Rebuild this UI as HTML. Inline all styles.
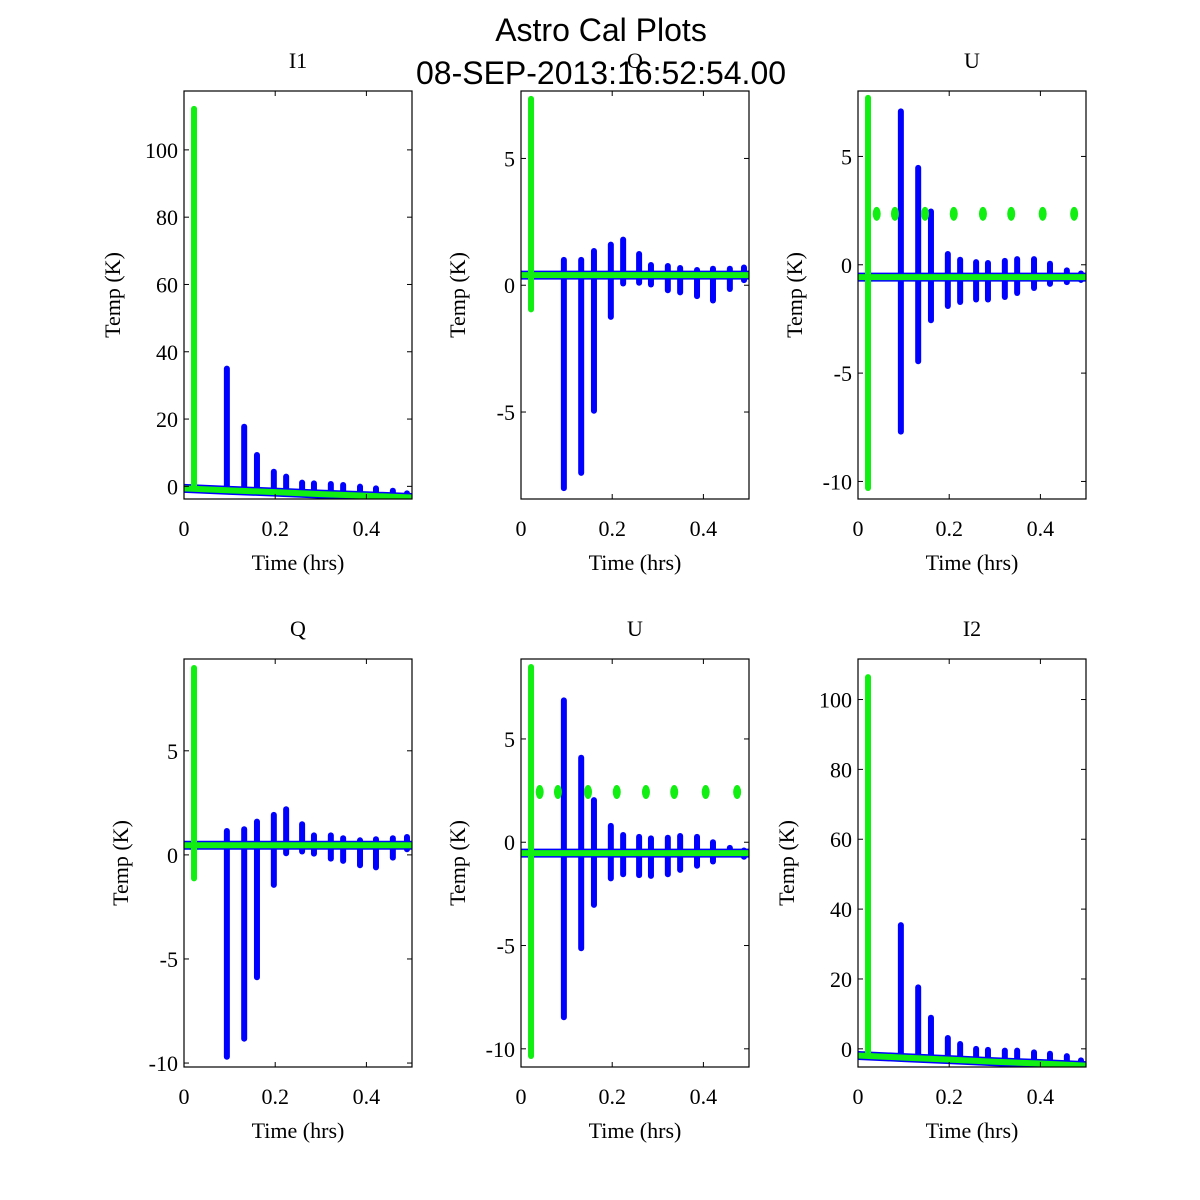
<!DOCTYPE html>
<html><head><meta charset="utf-8"><style>
html,body{margin:0;padding:0;background:#fff;}
svg{display:block;}
</style></head><body>
<svg id="fig" width="1200" height="1200" xmlns="http://www.w3.org/2000/svg">
<rect width="1200" height="1200" fill="#fff"/>
<text x="601" y="41" text-anchor="middle" font-family="Liberation Sans, sans-serif" font-size="32">Astro Cal Plots</text>
<g id="panels"></g>
<text x="601" y="84" text-anchor="middle" font-family="Liberation Sans, sans-serif" font-size="32">08-SEP-2013:16:52:54.00</text>
</svg>
<script>
const spikeTimes = [0.094,0.132,0.160,0.197,0.224,0.259,0.285,0.322,0.349,0.386,0.421,0.458,0.489];
const greenSpikeTime = 0.022;
const baseTimes = [0,0.1,0.2,0.3,0.4,0.5];
const clusterTimes = [0.041,0.081,0.147,0.21,0.274,0.336,0.405,0.474];
const xTicks = [0,0.2,0.4];
const xTickLabels = ["0","0.2","0.4"];

const i1Tops = [35,17.7,9.3,4.35,2.9,1.1,0.9,0.7,0.4,-0.1,-0.6,-1.3,-2.1];
const i1Bottoms = [-1.2,-1.4,-1.5,-1.7,-1.9,-2.0,-2.2,-2.3,-2.5,-2.7,-2.9,-3.0,-3.2];
const i1Green = [-0.5,112.2];
const i1Base = [-0.6,-1.2,-1.7,-2.3,-2.8,-3.3];

const q1Tops = [1.0,1.0,1.35,1.6,1.8,1.23,0.8,0.76,0.68,0.6,0.65,0.65,0.7];
const q1Bottoms = [-8.0,-7.4,-4.95,-1.25,0.07,0.1,0.03,-0.2,-0.28,-0.43,-0.6,-0.15,0.2];
const q1Green = [-0.95,7.35];
const q1Base = [0.4,0.4,0.4,0.4,0.4,0.4];

const u1Tops = [7.08,4.47,2.46,0.5,0.23,0.12,0.08,0.18,0.26,0.26,0.05,-0.26,-0.4];
const u1Bottoms = [-7.7,-4.45,-2.56,-1.9,-1.72,-1.6,-1.6,-1.49,-1.3,-1.07,-0.88,-0.8,-0.7];
const u1Green = [-10.3,7.7];
const u1Base = [-0.57,-0.57,-0.57,-0.57,-0.57,-0.57];
const u1Clusters = [2.35,2.35,2.35,2.35,2.35,2.35,2.35,2.35];

const q2Tops = [1.15,1.23,1.6,1.92,2.19,1.47,0.94,0.94,0.8,0.7,0.75,0.8,0.86];
const q2Bottoms = [-9.7,-8.83,-5.88,-1.44,0.08,0.16,0.06,-0.18,-0.29,-0.5,-0.6,-0.13,0.27];
const q2Green = [-1.13,8.98];
const q2Base = [0.46,0.46,0.46,0.46,0.46,0.46];

const u2Tops = [6.87,4.09,2.04,0.79,0.35,0.26,0.19,0.22,0.3,0.26,0,-0.27,-0.4];
const u2Bottoms = [-8.47,-5.13,-3.03,-1.75,-1.55,-1.59,-1.63,-1.55,-1.34,-1.14,-0.93,-0.58,-0.7];
const u2Green = [-10.35,8.48];
const u2Base = [-0.53,-0.53,-0.53,-0.53,-0.53,-0.53];
const u2Clusters = [2.43,2.43,2.43,2.43,2.43,2.43,2.43,2.43];

const i2Tops = [35.4,17.6,8.9,3.1,1.4,0,-0.3,-0.5,-0.5,-1,-1.4,-2.1,-3.3];
const i2Bottoms = [-2.6,-2.8,-2.9,-3.1,-3.3,-3.4,-3.6,-3.8,-3.9,-4.1,-4.3,-4.5,-4.7];
const i2Green = [-1,106.4];
const i2Base = [-1.9,-2.5,-3.1,-3.7,-4.2,-4.8];

const iTicks = [0,20,40,60,80,100];
const quTicks = [-10,-5,0,5];

const panels = [
 {name:'i1',title:'I1',x:184,y:91,ymin:-3.76,ymax:117.5,ticks:iTicks,tops:i1Tops,bots:i1Bottoms,green:i1Green,base:i1Base,clusters:null},
 {name:'q1',title:'Q',x:521,y:91,ymin:-8.43,ymax:7.66,ticks:quTicks,tops:q1Tops,bots:q1Bottoms,green:q1Green,base:q1Base,clusters:null},
 {name:'u1',title:'U',x:858,y:91,ymin:-10.81,ymax:8.02,ticks:quTicks,tops:u1Tops,bots:u1Bottoms,green:u1Green,base:u1Base,clusters:u1Clusters},
 {name:'q2',title:'Q',x:184,y:659,ymin:-10.19,ymax:9.41,ticks:quTicks,tops:q2Tops,bots:q2Bottoms,green:q2Green,base:q2Base,clusters:null},
 {name:'u2',title:'U',x:521,y:659,ymin:-10.88,ymax:8.87,ticks:quTicks,tops:u2Tops,bots:u2Bottoms,green:u2Green,base:u2Base,clusters:u2Clusters},
 {name:'i2',title:'I2',x:858,y:659,ymin:-5.2,ymax:111.6,ticks:iTicks,tops:i2Tops,bots:i2Bottoms,green:i2Green,base:i2Base,clusters:null}
];
const NS='http://www.w3.org/2000/svg';
const W=228,H=408;
const GREEN='#11ee11';
const root=document.getElementById('panels');
function mk(tag,attrs,parent){const e=document.createElementNS(NS,tag);for(const k in attrs)e.setAttribute(k,attrs[k]);parent.appendChild(e);return e;}
panels.forEach(p=>{
  const g=mk('g',{},root);
  
  
  const sx=t=>p.x+t/0.5*W;
  const sy=v=>p.y+(p.ymax-v)/(p.ymax-p.ymin)*H;
  const clip='clip-'+p.name;
  const cp=mk('clipPath',{id:clip},g);mk('rect',{x:p.x,y:p.y,width:W,height:H},cp);
  const plot=mk('g',{'clip-path':'url(#'+clip+')'},g);
  const pts=baseTimes.map((t,i)=>sx(t)+','+sy(p.base[i])).join(' ');
  const bl=mk('polyline',{points:pts,fill:'none',stroke:'#0000ff','stroke-width':9},plot);
  
  
  spikeTimes.forEach((t,i)=>{
    const l=mk('line',{x1:sx(t),x2:sx(t),y1:sy(p.tops[i]),y2:sy(p.bots[i]),stroke:'#0000ff','stroke-width':6,'stroke-linecap':'round'},plot);
    
    
  });
  const gs=mk('line',{x1:sx(greenSpikeTime),x2:sx(greenSpikeTime),y1:sy(p.green[1]),y2:sy(p.green[0]),stroke:GREEN,'stroke-width':6,'stroke-linecap':'round'},plot);
  
  
  const gb=mk('polyline',{points:pts,fill:'none',stroke:GREEN,'stroke-width':6},plot);
  
  
  if(p.clusters){
    clusterTimes.forEach((t,i)=>{
      const c=mk('ellipse',{cx:sx(t),cy:sy(p.clusters[i]),rx:4,ry:7,fill:GREEN},plot);
      
      
    });
  }
  const fr=mk('rect',{x:p.x,y:p.y,width:W,height:H,fill:'none',stroke:'#000','stroke-width':1.2},g);
  
  
  xTicks.forEach((t,i)=>{
    const X=sx(t);
    mk('line',{x1:X,x2:X,y1:p.y+H,y2:p.y+H-5,stroke:'#000'},g);
    mk('line',{x1:X,x2:X,y1:p.y,y2:p.y+5,stroke:'#000'},g);
    const tx=mk('text',{x:X,y:p.y+H+37,'text-anchor':'middle','font-family':'Liberation Serif, serif','font-size':22},g);
    tx.textContent=xTickLabels[i];
    
    
  });
  p.ticks.forEach(v=>{
    const Y=sy(v);
    if(Y<p.y-1||Y>p.y+H+1)return;
    mk('line',{x1:p.x,x2:p.x+5,y1:Y,y2:Y,stroke:'#000'},g);
    mk('line',{x1:p.x+W,x2:p.x+W-5,y1:Y,y2:Y,stroke:'#000'},g);
    const tx=mk('text',{x:p.x-6,y:Y+8,'text-anchor':'end','font-family':'Liberation Serif, serif','font-size':22},g);
    tx.textContent=String(v);
    
    
  });
  const tt=mk('text',{x:p.x+W/2,y:p.y-23,'text-anchor':'middle','font-family':'Liberation Serif, serif','font-size':22},g);
  tt.textContent=p.title;
  
  
  const xl=mk('text',{x:p.x+W/2,y:p.y+H+71,'text-anchor':'middle','font-family':'Liberation Serif, serif','font-size':22},g);
  xl.textContent='Time (hrs)';
  
  
  const lx=(p.ticks===iTicks)?p.x-64:p.x-56, ly=p.y+H/2;
  const yl=mk('text',{x:lx,y:ly,'text-anchor':'middle','font-family':'Liberation Serif, serif','font-size':22,transform:'rotate(-90 '+lx+' '+ly+')'},g);
  yl.textContent='Temp (K)';
  
  
});
</script>
</body></html>
